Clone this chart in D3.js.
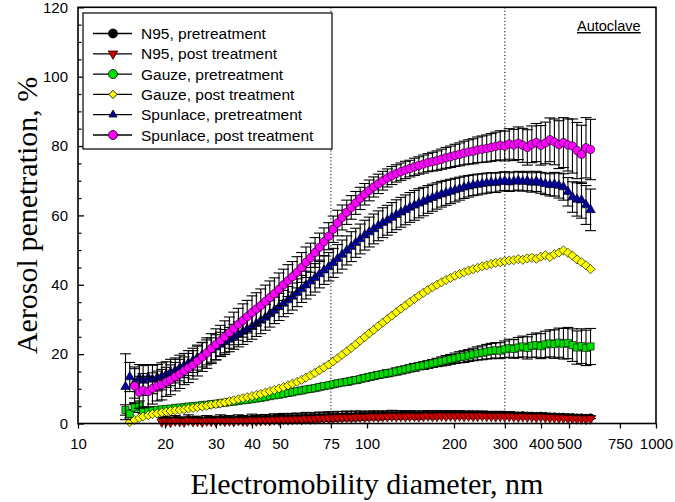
<!DOCTYPE html>
<html><head><meta charset="utf-8">
<script src="https://cdn.jsdelivr.net/npm/d3@7"></script>
<style>
html,body{margin:0;padding:0;background:#fff;}
svg{display:block;}
</style></head>
<body>
<svg id="chart" width="675" height="502"></svg>
<script>
// ---- DATA ----
const diameters = [14.6,15.1,15.7,16.3,16.8,17.5,18.1,18.8,19.5,20.2,20.9,21.7,22.5,23.3,24.1,25.0,25.9,26.9,27.9,28.9,30.0,31.1,32.2,33.4,34.6,35.9,37.2,38.5,40.0,41.4,42.9,44.5,46.1,47.8,49.6,51.4,53.3,55.2,57.3,59.4,61.5,63.8,66.1,68.5,71.0,73.7,76.4,79.1,82.0,85.1,88.2,91.4,94.7,98.2,101.8,105.5,109.4,113.4,117.6,121.9,126.3,131.0,135.8,140.7,145.9,151.2,156.8,162.5,168.5,174.7,181.1,187.7,194.6,201.7,209.1,216.7,224.7,232.9,241.4,250.3,259.5,269.0,278.8,289.0,299.6,310.6,322.0,333.8,346.0,358.7,371.8,385.4,399.5,414.2,429.4,445.1,461.4,478.3,495.8,514.0,532.8,552.3,572.5,593.5];

const n95Pre = [null,null,null,null,null,null,null,null,
0.9,1.1,0.8,1.2,1.0,0.9,1.3,1.0,1.1,0.9,1.2,1.1,1.0,1.3,1.1,1.2,1.0,1.3,1.2,1.1,1.4,1.2,1.3,1.4,1.3,1.5,1.4,1.6,1.5,1.6,1.7,1.6,1.8,1.7,1.8,1.9,1.9,2.0,2.0,2.1,2.1,2.2,2.1,2.2,2.3,2.2,2.3,2.4,2.3,2.4,2.4,2.5,2.4,2.5,2.4,2.5,2.5,2.4,2.5,2.6,2.5,2.5,2.6,2.5,2.6,2.5,2.6,2.5,2.6,2.5,2.5,2.6,2.5,2.5,2.4,2.5,2.4,2.5,2.4,2.3,2.4,2.3,2.3,2.2,2.3,2.2,2.1,2.1,2.0,2.0,1.9,1.9,1.8,1.8,1.7,1.8];
const n95PreErr = [null,null,null,null,null,null,null,null,
0.9,1.0,0.8,1.1,0.9,0.8,1.2,0.9,1.0,0.8,1.1,1.0,0.9,1.2,1.0,1.1,0.9,1.2,1.1,1.0,1.3,1.1,1.2,1.2,1.1,1.3,1.2,1.3,1.2,1.3,1.3,1.2,1.4,1.3,1.3,1.4,1.3,1.4,1.3,1.4,1.3,1.4,1.3,1.4,1.3,1.2,1.3,1.2,1.3,1.2,1.2,1.3,1.2,1.2,1.1,1.2,1.1,1.2,1.1,1.1,1.2,1.1,1.1,1.0,1.1,1.0,1.1,1.0,1.0,1.1,1.0,1.0,0.9,1.0,0.9,1.0,0.9,0.9,0.8,0.9,0.8,0.8,0.7,0.8,0.7,0.7,0.6,0.6,0.6,0.5,0.5,0.5,0.4,0.4,0.4,0.4];

const n95Post = [null,null,null,null,null,null,null,null,
0.5,0.7,0.4,0.8,0.6,0.5,0.9,0.6,0.7,0.5,0.8,0.7,0.6,0.9,0.7,0.8,0.6,0.9,0.8,0.7,1.0,0.8,0.9,1.0,0.9,1.1,1.0,1.2,1.1,1.2,1.3,1.2,1.4,1.3,1.4,1.5,1.5,1.6,1.6,1.7,1.7,1.8,1.7,1.8,1.9,1.8,1.9,2.0,1.9,2.0,2.0,2.1,2.0,2.1,2.0,2.1,2.1,2.0,2.1,2.2,2.1,2.1,2.2,2.1,2.2,2.1,2.2,2.1,2.2,2.1,2.1,2.2,2.1,2.1,2.0,2.1,2.0,2.1,2.0,1.9,2.0,1.9,1.9,1.8,1.9,1.8,1.7,1.7,1.6,1.6,1.5,1.5,1.4,1.4,1.3,1.4];

const gauzePre = [3.9,2.8,4.6,5.2,3.6,3.4,3.8,3.9,4.1,4.2,4.3,4.5,4.6,4.7,4.9,5.0,5.1,5.3,5.4,5.6,5.7,5.9,6.0,6.2,6.3,6.5,6.7,6.8,7.0,7.2,7.4,7.6,7.9,8.1,8.3,8.5,8.8,9.0,9.3,9.5,9.8,10.0,10.2,10.5,10.8,11.0,11.3,11.6,11.8,12.0,12.3,12.5,12.8,13.1,13.4,13.7,14.0,14.2,14.5,14.7,15.0,15.3,15.6,15.9,16.2,16.5,16.7,17.0,17.3,17.6,17.9,18.2,18.5,18.8,19.1,19.3,19.6,19.9,20.2,20.4,20.7,20.9,21.1,21.0,21.4,21.7,21.5,21.9,22.2,21.8,22.4,22.6,22.3,22.8,23.1,22.9,23.3,23.0,23.2,22.6,21.9,22.3,21.8,22.2];
const gauzePreErr = [1.5,1.2,1.4,1.3,0.8,0.7,0.7,0.6,0.7,0.6,0.7,0.6,0.7,0.6,0.7,0.6,0.7,0.6,0.7,0.6,0.7,0.6,0.7,0.6,0.7,0.7,0.7,0.7,0.7,0.7,0.7,0.7,0.7,0.7,0.7,0.7,0.8,0.7,0.8,0.7,0.8,0.8,0.8,0.8,0.8,0.8,0.8,0.8,0.8,0.9,0.8,0.9,0.8,0.9,0.9,0.9,0.9,0.9,1.0,0.9,1.0,1.0,1.0,1.0,1.1,1.0,1.1,1.1,1.1,1.2,1.3,1.4,1.4,1.5,1.6,1.7,1.7,1.8,1.9,2.0,2.1,2.2,2.2,2.3,2.4,2.6,2.7,2.9,3.0,3.2,3.3,3.5,3.6,3.8,3.9,4.1,4.2,4.4,4.5,4.7,4.8,5.0,5.1,5.2];

const gauzePost = [null,0.4,1.0,1.6,2.0,2.4,2.7,2.9,3.2,3.4,3.6,3.8,3.9,4.1,4.3,4.5,4.7,4.9,5.1,5.4,5.6,5.8,6.1,6.4,6.7,7.0,7.3,7.6,7.9,8.2,8.5,8.9,9.3,9.7,10.1,10.5,11.0,11.5,12.0,12.6,13.2,13.9,14.6,15.4,16.2,17.0,17.9,18.8,19.8,20.8,21.8,22.8,23.9,24.9,26.0,27.0,28.1,29.1,30.1,31.1,32.1,33.1,34.0,35.0,35.9,36.8,37.7,38.5,39.3,40.0,40.7,41.4,42.0,42.6,43.1,43.6,44.1,44.5,44.9,45.3,45.6,46.0,46.3,46.5,46.8,47.0,47.1,47.4,47.2,47.6,47.8,47.5,48.1,48.5,48.0,48.8,49.3,49.9,49.2,48.4,47.3,46.5,45.6,44.5];

const spunlacePre = [10.6,13.4,11.8,13.0,12.4,13.1,12.7,13.2,13.6,14.1,14.7,15.3,16.0,16.7,17.4,18.2,19.0,19.8,20.5,21.2,22.0,22.8,23.5,24.2,25.0,25.7,26.5,27.2,28.0,28.8,29.7,30.6,31.6,32.6,33.6,34.6,35.6,36.6,37.7,38.8,39.9,41.0,42.0,43.1,44.2,45.2,46.3,47.5,48.7,49.9,51.0,52.1,53.2,54.3,55.2,56.1,57.0,57.9,58.6,59.4,60.2,60.9,61.6,62.3,62.9,63.5,64.0,64.6,65.1,65.6,66.1,66.5,66.9,67.3,67.7,68.1,68.4,68.7,68.9,69.1,69.3,69.5,69.4,69.7,69.9,69.6,69.8,70.0,69.7,69.9,69.5,69.8,69.4,69.1,68.8,69.0,68.6,68.2,66.8,65.3,64.6,64.4,63.0,61.6];
const spunlacePreErr = [9.5,4.2,4.5,4.0,4.3,3.9,4.1,3.8,3.9,3.7,3.8,3.6,3.7,3.5,3.6,3.5,3.6,3.5,3.6,3.5,3.6,3.5,3.6,3.5,3.6,3.6,3.7,3.6,3.7,3.7,3.8,3.7,3.8,3.8,3.9,3.8,3.9,3.9,4.0,3.9,4.0,4.0,4.1,4.0,4.1,4.1,4.2,4.1,4.2,4.2,4.3,4.2,4.3,4.3,4.3,4.3,4.3,4.3,4.3,4.3,4.3,4.3,4.3,4.3,4.3,4.2,4.1,4.0,3.9,3.8,3.7,3.6,3.5,3.4,3.3,3.2,3.1,3.0,3.0,2.9,2.9,2.8,2.8,2.7,2.7,2.7,2.7,2.7,2.7,2.8,2.8,2.9,3.0,3.1,3.2,3.4,3.6,3.8,4.1,4.4,4.8,5.2,5.6,6.0];

const spunlacePost = [null,null,10.8,9.0,9.6,9.2,10.1,10.8,11.2,12.0,12.6,13.5,14.3,15.2,16.0,16.9,18.0,19.2,20.3,21.6,22.8,23.9,25.0,26.2,27.4,28.6,29.7,30.8,32.0,33.0,34.0,35.2,36.3,37.4,38.7,40.0,41.2,42.3,43.6,45.0,46.5,47.8,49.3,50.8,52.4,54.0,56.0,57.8,59.4,60.9,62.3,63.6,64.9,66.1,67.2,68.2,69.1,70.0,70.8,71.5,72.1,72.6,73.1,73.5,74.0,74.4,74.8,75.2,75.5,75.8,76.2,76.6,76.9,77.3,77.6,78.0,78.3,78.5,78.9,79.1,79.3,79.6,79.9,80.2,80.0,80.6,80.3,80.8,80.2,79.6,80.5,81.0,80.2,80.9,81.8,81.2,80.4,81.0,80.3,80.0,78.7,77.6,79.5,79.0];
const spunlacePostErr = [null,null,5.0,4.6,4.8,4.4,4.5,4.3,4.4,4.2,4.3,4.1,4.2,4.0,4.2,4.1,4.3,4.2,4.4,4.3,4.5,4.4,4.6,4.5,4.7,4.6,4.8,4.7,4.8,4.7,4.8,4.7,4.8,4.6,4.7,4.5,4.6,4.4,4.5,4.3,4.4,4.2,4.3,4.1,4.0,3.9,3.8,3.7,3.6,3.5,3.4,3.3,3.2,3.1,3.0,2.9,2.8,2.7,2.6,2.6,2.5,2.5,2.5,2.4,2.5,2.5,2.6,2.6,2.7,2.8,2.9,3.0,3.1,3.2,3.3,3.4,3.5,3.6,3.7,3.8,3.9,4.0,4.1,4.2,4.3,4.4,4.5,4.7,4.9,5.1,5.3,5.5,5.7,6.0,6.3,6.6,6.9,7.2,7.5,7.8,8.1,8.4,8.7,8.7];

const xTickValues = [10,20,30,40,50,75,100,200,300,400,500,750,1000];
const yTickValues = [0,20,40,60,80,100,120];
const yMinorTicks = [5,10,15,25,30,35,45,50,55,65,70,75,85,90,95,105,110,115];
const refLines = [75,300];
const seriesNames = ["N95, pretreatment","N95, post treatment","Gauze, pretreatment","Gauze, post treatment","Spunlace, pretreatment","Spunlace, post treatment"];
const seriesColors = ["#000000","#d40000","#00e000","#ffff00","#0000a0","#ff00ff"];

// ---- CHART ----
const svg = d3.select("#chart");
const x = d3.scaleLog().domain([10,1000]).range([78,656]);
const y = d3.scaleLinear().domain([0,120]).range([423.5,7.3]);

const series = [
  {name:seriesNames[0], color:seriesColors[0], vals:n95Pre, err:n95PreErr, plotSym:"circle", plotSize:40, legSym:"circle", legSize:64},
  {name:seriesNames[1], color:seriesColors[1], vals:n95Post, err:null, plotSym:"tdown", plotSize:42, legSym:"tdown", legSize:40},
  {name:seriesNames[2], color:seriesColors[2], vals:gauzePre, err:gauzePreErr, plotSym:"square", plotSize:52, legSym:"circle", legSize:64},
  {name:seriesNames[3], color:seriesColors[3], vals:gauzePost, err:null, plotSym:"diamond", plotSize:42, legSym:"diamond", legSize:34},
  {name:seriesNames[4], color:seriesColors[4], vals:spunlacePre, err:spunlacePreErr, plotSym:"tup", plotSize:40, legSym:"tup", legSize:28},
  {name:seriesNames[5], color:seriesColors[5], vals:spunlacePost, err:spunlacePostErr, plotSym:"circle", plotSize:56, legSym:"circle", legSize:64}
];

function symPath(kind, size){
  if (kind==="circle") return {d:d3.symbol(d3.symbolCircle,size)(), rot:0};
  if (kind==="square") return {d:d3.symbol(d3.symbolSquare,size)(), rot:0};
  if (kind==="diamond") return {d:d3.symbol(d3.symbolSquare,size)(), rot:45};
  if (kind==="tup") return {d:d3.symbol(d3.symbolTriangle,size)(), rot:0};
  if (kind==="tdown") return {d:d3.symbol(d3.symbolTriangle,size)(), rot:180};
}

// reference dotted lines
svg.selectAll("line.ref").data(refLines).enter().append("line")
  .attr("x1",d=>x(d)).attr("x2",d=>x(d)).attr("y1",y(120)).attr("y2",y(0))
  .attr("stroke","#000").attr("stroke-width",1).attr("stroke-dasharray","1.2,2.2");

const plot = svg.append("g");
series.forEach(s=>{
  const pts = diameters.map((d,i)=>({d, v:s.vals[i], e:s.err?s.err[i]:null})).filter(p=>p.v!=null);
  const g = plot.append("g");
  if (s.err){
    const eb = g.selectAll("g.eb").data(pts.filter(p=>p.e!=null)).enter().append("g")
      .attr("stroke","#000").attr("stroke-width",1.1);
    eb.append("line").attr("x1",p=>x(p.d)).attr("x2",p=>x(p.d)).attr("y1",p=>y(p.v+p.e)).attr("y2",p=>y(p.v-p.e));
    eb.append("line").attr("x1",p=>x(p.d)-5.5).attr("x2",p=>x(p.d)+5.5).attr("y1",p=>y(p.v+p.e)).attr("y2",p=>y(p.v+p.e));
    eb.append("line").attr("x1",p=>x(p.d)-5.5).attr("x2",p=>x(p.d)+5.5).attr("y1",p=>y(p.v-p.e)).attr("y2",p=>y(p.v-p.e));
  }
  const sp = symPath(s.plotSym, s.plotSize);
  g.selectAll("path.m").data(pts).enter().append("path")
    .attr("d",sp.d)
    .attr("transform",p=>`translate(${x(p.d)},${y(p.v)}) rotate(${sp.rot})`)
    .attr("fill",s.color).attr("stroke","#000").attr("stroke-width",0.6);
});

// axes
const fontSans = "'Liberation Sans', Arial, sans-serif";
const xAxis = svg.append("g").attr("transform",`translate(0,${y(0)})`)
  .call(d3.axisBottom(x).tickValues(xTickValues).tickFormat(d3.format("d")).tickSize(5).tickPadding(10));
xAxis.select(".domain").remove();
xAxis.selectAll("line").attr("stroke","#000").attr("stroke-width",1.3);
xAxis.selectAll("text").attr("font-family",fontSans).attr("font-size",15).attr("fill","#000");

const yAxis = svg.append("g").attr("transform",`translate(${x(10)},0)`)
  .call(d3.axisLeft(y).tickValues(yTickValues).tickSizeInner(-6).tickSizeOuter(0).tickPadding(10));
yAxis.select(".domain").remove();
yAxis.selectAll("line").attr("stroke","#000").attr("stroke-width",1.3);
yAxis.selectAll("text").attr("font-family",fontSans).attr("font-size",15).attr("fill","#000");

const yMinor = svg.append("g").attr("transform",`translate(${x(10)},0)`)
  .call(d3.axisLeft(y).tickValues(yMinorTicks).tickSizeInner(-3.5).tickSizeOuter(0).tickFormat(""));
yMinor.select(".domain").remove();
yMinor.selectAll("line").attr("stroke","#000").attr("stroke-width",1.2);

// frame
svg.append("rect").attr("x",x(10)).attr("y",y(120)).attr("width",x(1000)-x(10)).attr("height",y(0)-y(120))
  .attr("fill","none").attr("stroke","#000").attr("stroke-width",1.6);

// axis titles
const fontSerif = "'Liberation Serif', 'Times New Roman', serif";
svg.append("text").attr("x",(x(10)+x(1000))/2).attr("y",494).attr("text-anchor","middle")
  .attr("font-family",fontSerif).attr("font-size",30).text("Electromobility diameter, nm");
svg.append("text").attr("transform",`translate(37,${(y(0)+y(120))/2}) rotate(-90)`).attr("text-anchor","middle")
  .attr("font-family",fontSerif).attr("font-size",30).text("Aerosol penetration, %");

// legend
const leg = svg.append("g");
leg.append("rect").attr("x",83).attr("y",13).attr("width",249).attr("height",136)
  .attr("fill","#fff").attr("stroke","#000").attr("stroke-width",1.2);
series.forEach((s,i)=>{
  const yy = 33.5 + i*20.3;
  leg.append("line").attr("x1",93).attr("x2",132).attr("y1",yy).attr("y2",yy).attr("stroke","#000").attr("stroke-width",1.3);
  const sp = symPath(s.legSym, s.legSize);
  leg.append("path").attr("d",sp.d).attr("transform",`translate(113,${yy}) rotate(${sp.rot})`)
    .attr("fill",s.color).attr("stroke","#000").attr("stroke-width",0.8);
  leg.append("text").attr("x",141).attr("y",yy+5.5).attr("font-family",fontSans).attr("font-size",15.5).text(s.name);
});

// annotation
svg.append("text").attr("x",577).attr("y",31).attr("font-family",fontSans).attr("font-size",14.5)
  .attr("text-decoration","underline").text("Autoclave");
</script>
</body></html>
